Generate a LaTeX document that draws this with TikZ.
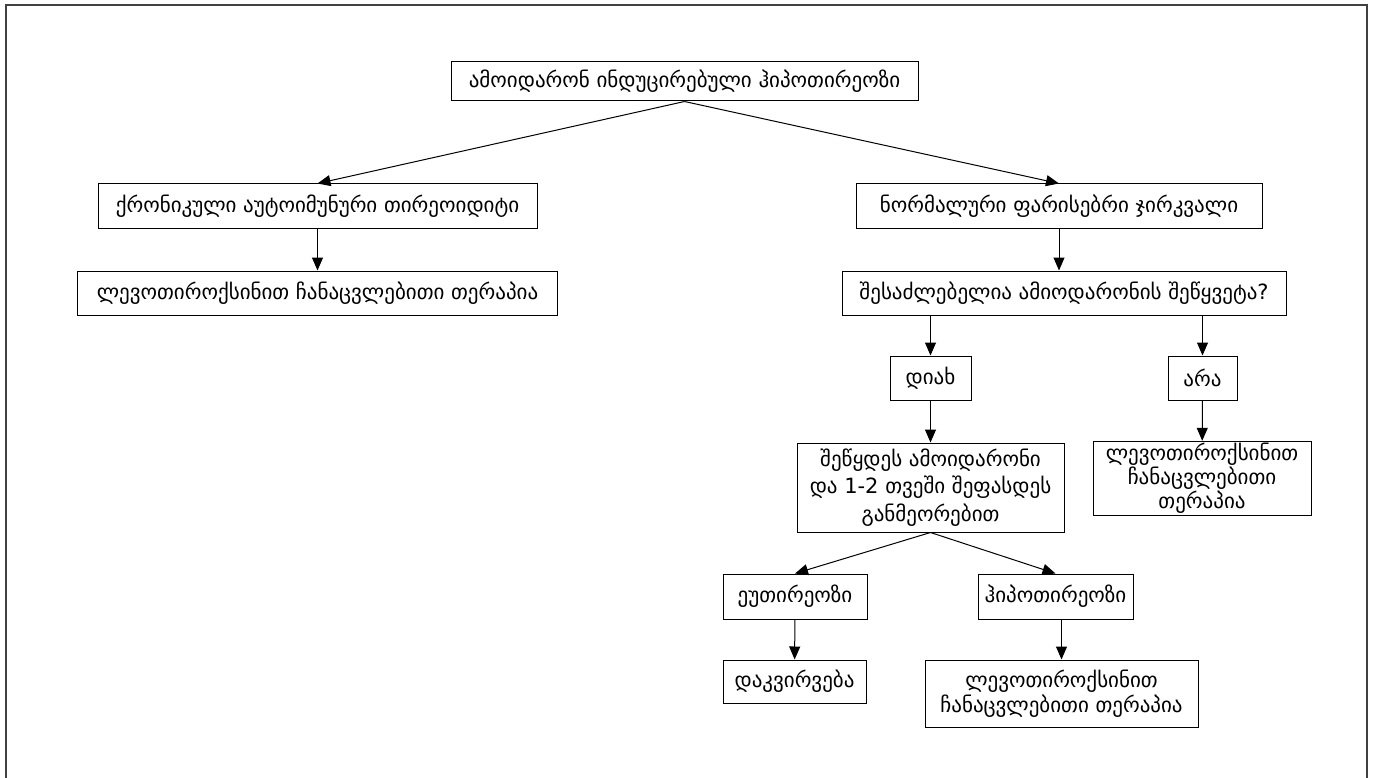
\documentclass[tikz,border=0pt]{standalone}
\usepackage{fontspec}
\setmainfont{DejaVu Sans}
\usetikzlibrary{arrows.meta,positioning}

\begin{document}
\begin{tikzpicture}[
  x=1pt, y=-1pt,
  box/.style={draw, line width=1pt, align=center, inner xsep=4pt,
    font=\fontsize{21}{27.5}\selectfont, minimum height=44pt},
  arrow/.style={-{Triangle[length=13pt, width=11pt]}, line width=1pt},
]
  \useasboundingbox (0,0) rectangle (1375,778);
  % Frame
  \draw[line width=2pt, black!75] (6,790) -- (6,5) -- (1367,5) -- (1367,790);

  % Top
  \node[box, minimum width=467pt, minimum height=39pt] (top) at (684.5,81.5) {ამოიდარონ ინდუცირებული ჰიპოთირეოზი};

  % Left branch
  \node[box, minimum width=439pt] (chronic) at (317.5,206) {ქრონიკული აუტოიმუნური თირეოიდიტი};
  \node[box, minimum width=480pt] (levoL) at (317.5,293) {ლევოთიროქსინით ჩანაცვლებითი თერაპია};

  % Right branch
  \node[box, minimum width=406pt] (normal) at (1059,206) {ნორმალური ფარისებრი ჯირკვალი};
  \node[box, minimum width=444pt] (question) at (1064,293) {შესაძლებელია ამიოდარონის შეწყვეტა?};
  \node[box, minimum width=81pt] (yes) at (930.5,378) {დიახ};
  \node[box, minimum width=69pt] (no) at (1202.5,378) {არა};
  \node[box, minimum width=267pt, minimum height=89pt] (stop) at (930.5,487.5) {შეწყდეს ამოიდარონი\\და 1-2 თვეში შეფასდეს\\განმეორებით};
  \node[box, minimum width=218pt, minimum height=71pt, inner ysep=2pt,
    font=\fontsize{21}{24}\selectfont] (levoR) at (1202,478.5) {ლევოთიროქსინით\\ჩანაცვლებითი\\თერაპია};

  % Outcomes
  \node[box, minimum width=144pt, minimum height=45pt] (euth) at (795,596.5) {ეუთირეოზი};
  \node[box, minimum width=155pt, minimum height=45pt] (hypo) at (1055.5,596.5) {ჰიპოთირეოზი};
  \node[box, minimum width=143pt, minimum height=43pt] (observe) at (794.5,681.5) {დაკვირვება};
  \node[box, minimum width=273pt, minimum height=67pt,
    font=\fontsize{21}{25}\selectfont] (levoB) at (1061.5,693.5) {ლევოთიროქსინით\\ჩანაცვლებითი თერაპია};

  % Arrows
  \draw[arrow] (top.south) -- (chronic.north);
  \draw[arrow] (top.south) -- (normal.north);
  \draw[arrow] (chronic) -- (levoL);
  \draw[arrow] (normal.south) -- (normal.south |- question.north);
  \draw[arrow] (question.south -| yes) -- (yes);
  \draw[arrow] (question.south -| no) -- (no);
  \draw[arrow] (yes) -- (stop);
  \draw[arrow] (no) -- (levoR);
  \draw[arrow] (stop.south) -- (euth.north);
  \draw[arrow] (stop.south) -- (hypo.north);
  \draw[arrow] (euth) -- (observe);
  \draw[arrow] (hypo.south -| levoB) -- (levoB);
\end{tikzpicture}
\end{document}
